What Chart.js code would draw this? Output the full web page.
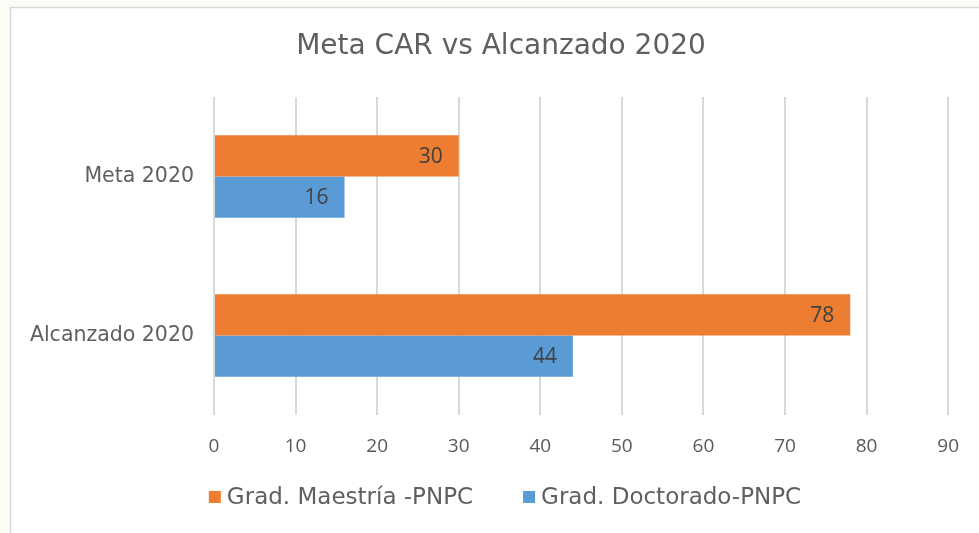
<!DOCTYPE html>
<html>
<head>
<meta charset="utf-8">
<script src="https://cdn.jsdelivr.net/npm/chart.js@4"></script>
<style>
  html, body { margin: 0; padding: 0; background: #fcfbf6; }
  #wrap { width: 979px; height: 533px; position: relative; }
</style>
</head>
<body>
<div id="wrap"><canvas id="chart" width="979" height="533"></canvas></div>
<script>
/* ===== DATA ===== */
const categories = ['Meta 2020', 'Alcanzado 2020'];
const seriesNames = ['Grad. Maestría -PNPC', 'Grad. Doctorado-PNPC'];
const maestria  = [30, 78];
const doctorado = [16, 44];
const xTickLabels = ['0', '10', '20', '30', '40', '50', '60', '70', '80', '90'];
const chartTitle = 'Meta CAR vs Alcanzado 2020';

const ORANGE = '#ED7D31', BLUE = '#5B9BD5';
const GOTHIC = '"DejaVu Sans", sans-serif';
const NUMS = '"Open Sans", sans-serif';

/* frame + background */
const framePlugin = {
  id: 'frame',
  beforeDraw(c) {
    const ctx = c.ctx;
    ctx.save();
    ctx.fillStyle = '#fcfbf6';
    ctx.fillRect(0, 0, c.width, c.height);
    ctx.fillStyle = '#ffffff';
    ctx.fillRect(10, 7, c.width - 10, c.height - 7);
    ctx.strokeStyle = '#d9d9d9';
    ctx.lineWidth = 1.5;
    ctx.beginPath();
    ctx.moveTo(10.5, c.height);
    ctx.lineTo(10.5, 7.5);
    ctx.lineTo(c.width, 7.5);
    ctx.stroke();
    ctx.restore();
  }
};

/* title, drawn by hand so it sits where the original does */
const titlePlugin = {
  id: 'titleTop',
  afterDraw(c) {
    const ctx = c.ctx;
    ctx.save();
    ctx.font = '28px ' + GOTHIC;
    ctx.fillStyle = '#5f5f5f';
    ctx.textAlign = 'center';
    ctx.textBaseline = 'middle';
    ctx.fillText(chartTitle, 501, 47);
    ctx.restore();
  }
};

/* value labels inside bar end */
const valuePlugin = {
  id: 'values',
  afterDatasetsDraw(c) {
    const ctx = c.ctx;
    ctx.save();
    ctx.font = '21px ' + NUMS;
    ctx.fillStyle = '#404040';
    ctx.textAlign = 'right';
    ctx.textBaseline = 'middle';
    c.data.datasets.forEach((ds, i) => {
      c.getDatasetMeta(i).data.forEach((el, j) => {
        ctx.fillText(ds.data[j], el.x - 16, el.y + 1);
      });
    });
    ctx.restore();
  }
};

/* legend drawn by hand so spacing matches */
const legendPlugin = {
  id: 'legendBottom',
  afterDraw(c) {
    const ctx = c.ctx;
    ctx.save();
    ctx.font = '23px ' + GOTHIC;
    ctx.textBaseline = 'middle';
    const box = 12, gapTxt = 6, gapItem = 50;
    const items = c.data.datasets.map(d => ({ label: d.label, color: d.backgroundColor, w: ctx.measureText(d.label).width }));
    let total = items.reduce((s, it) => s + box + gapTxt + it.w, 0) + gapItem * (items.length - 1);
    let x = 505 - total / 2;
    const y = 497;
    items.forEach(it => {
      ctx.fillStyle = it.color;
      ctx.fillRect(x, y - box / 2, box, box);
      x += box + gapTxt;
      ctx.fillStyle = '#5f5f5f';
      ctx.fillText(it.label, x, y + 1);
      x += it.w + gapItem;
    });
    ctx.restore();
  }
};

new Chart(document.getElementById('chart'), {
  type: 'bar',
  data: {
    labels: categories,
    datasets: [
      { label: seriesNames[0], data: maestria,  backgroundColor: ORANGE, categoryPercentage: 0.52, barPercentage: 1 },
      { label: seriesNames[1], data: doctorado, backgroundColor: BLUE,   categoryPercentage: 0.52, barPercentage: 1 }
    ]
  },
  options: {
    indexAxis: 'y',
    responsive: false,
    animation: false,
    layout: { padding: { left: 10, right: 27, top: 97, bottom: 58 } },
    plugins: {
      legend: { display: false },
      tooltip: { enabled: false },
      title: { display: false }
    },
    scales: {
      x: {
        min: 0, max: 90,
        ticks: {
          stepSize: 10,
          color: '#595959',
          font: { family: NUMS, size: 19 },
          padding: 20,
          callback: (v, i) => xTickLabels[i]
        },
        grid: { color: '#d9d9d9', lineWidth: 2, drawTicks: false },
        border: { display: false },
        afterFit: s => { s.height = 60; }
      },
      y: {
        ticks: {
          color: '#5f5f5f',
          font: { family: GOTHIC, size: 20.5 },
          padding: 20
        },
        grid: { display: false, drawTicks: false },
        border: { display: false },
        afterFit: s => { s.width = 204; }
      }
    }
  },
  plugins: [framePlugin, valuePlugin, titlePlugin, legendPlugin]
});
</script>
</body>
</html>
